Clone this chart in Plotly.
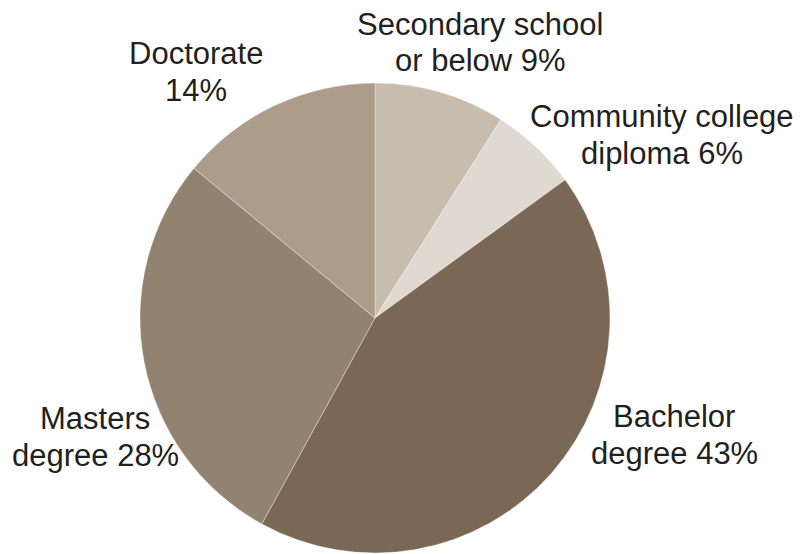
import plotly.graph_objects as go

categories = ["Secondary school", "Community college", "Bachelor", "Masters", "Doctorate"]
label_line1 = ["Secondary school", "Community college", "Bachelor", "Masters", "Doctorate"]
label_line2 = ["or below", "diploma", "degree", "degree", ""]
shares = [9, 6, 43, 28, 14]
colors = ["#c8bcad", "#e0d9d1", "#7a6854", "#928270", "#ab9d8a"]

OFF = 8  # page body margin
W, H = 805 - OFF, 554 - OFF
cx, cy, r = 375 - OFF, 318 - OFF, 235

fig = go.Figure(go.Pie(
    labels=categories, values=shares, sort=False, direction="clockwise",
    rotation=0, textinfo="none", hoverinfo="label+percent",
    marker=dict(colors=colors, line=dict(color="rgba(255,255,255,0.6)", width=0.6)),
    domain=dict(x=[(cx - r) / W, (cx + r) / W], y=[(H - cy - r) / H, (H - cy + r) / H]),
    showlegend=False,
))

# label positions in page pixels: (x centre, line-1 y centre)
label_pos = [(480, 24), (662, 117), (674, 416), (95, 418), (196, 53)]
LS = 37
font = dict(family="Liberation Sans, Arial, sans-serif", size=31, color="#231f20")
for l1, l2, v, (px, py) in zip(label_line1, label_line2, shares, label_pos):
    line2 = f"{l2} {v}%".strip()
    for txt, yy in ((l1, py), (line2, py + LS)):
        fig.add_annotation(
            x=(px - OFF) / W, y=1 - (yy - OFF) / H, xref="paper", yref="paper",
            text=txt, showarrow=False, xanchor="center", yanchor="middle",
            font=font,
        )

fig.update_layout(width=W, height=H, margin=dict(l=0, r=0, t=0, b=0),
                  paper_bgcolor="white", plot_bgcolor="white")
fig.write_html("out.html")
